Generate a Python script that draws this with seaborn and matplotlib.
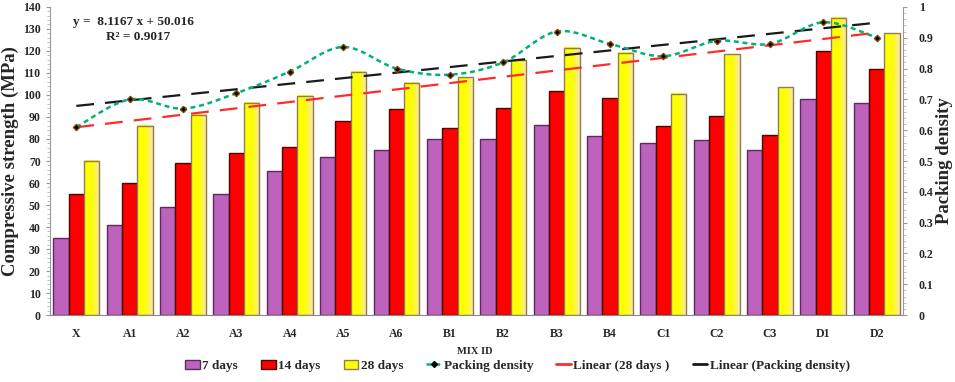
import numpy as np
import pandas as pd
import matplotlib
matplotlib.use("Agg")
import matplotlib.pyplot as plt
import seaborn as sns
from matplotlib.patches import Patch
from matplotlib.lines import Line2D
from matplotlib.colors import LinearSegmentedColormap
from matplotlib.ticker import MultipleLocator

mixes = ["X", "A1", "A2", "A3", "A4", "A5", "A6", "B1", "B2", "B3", "B4",
         "C1", "C2", "C3", "D1", "D2"]
days_7 = [35, 41, 49, 55, 65.5, 72, 75, 80, 80, 86.5, 81.5, 78, 79.5, 75, 98, 96.5]
days_14 = [55, 60, 69, 73.5, 76.5, 88, 93.5, 85, 94, 102, 98.5, 86, 90.5, 82, 120, 112]
days_28 = [70, 86, 91, 96.5, 99.5, 110.5, 105.5, 108, 116, 121.5, 119, 100.5,
           118.5, 103.5, 135, 128]
packing = [0.61, 0.70, 0.67, 0.72, 0.79, 0.87, 0.80, 0.78, 0.82, 0.92, 0.88,
           0.84, 0.89, 0.88, 0.95, 0.90]
ages = ["7 days", "14 days", "28 days"]

sns.set_style("ticks")
plt.rcParams["font.family"] = ["Liberation Serif", "DejaVu Serif"]
plt.rcParams["font.weight"] = "bold"

df = pd.DataFrame({
    "mix": mixes * 3,
    "age": [a for a in ages for _ in mixes],
    "strength": days_7 + days_14 + days_28,
})

colors = {"7 days": "#bd62bd", "14 days": "#ff0000", "28 days": "#ffff00"}
edges = ["#5c2a5c", "#4a0000", "#8c7d55"]

fig = plt.figure(figsize=(9.55, 3.82), dpi=100)
ax = fig.add_axes([0.052, 0.175, 0.894, 0.807])

sns.barplot(data=df, x="mix", y="strength", hue="age", order=mixes,
            hue_order=ages, palette=colors, saturation=1, width=0.86, gap=0,
            legend=False, ax=ax, zorder=2)

for cont, ec in zip(ax.containers, edges):
    for p in cont:
        p.set_edgecolor(ec)
        p.set_linewidth(1.0)

# gradient fill on the 28-day bars
grad_cmap = LinearSegmentedColormap.from_list(
    "yg", [(0, "#ffff00"), (0.5, "#ffff00"), (1.0, "#fde6b0")])
grad = np.linspace(0, 1, 64).reshape(1, -1)
for p in ax.containers[2]:
    x0, w, h = p.get_x(), p.get_width(), p.get_height()
    ax.imshow(grad, cmap=grad_cmap, extent=[x0, x0 + w, 0, h],
              aspect="auto", zorder=2.1, interpolation="bilinear")
    p.set_facecolor("none")
    p.set_zorder(2.2)

xs = np.arange(len(mixes))

# linear trend of 28 days
k, b = np.polyfit(xs, days_28, 1)
ax.plot(xs, k * xs + b, color="#ff2a2a", lw=1.6, dashes=(8, 5), zorder=4)

ax.set_xlim(-0.5, len(mixes) - 0.5)
ax.set_ylim(0, 140)
ax.yaxis.set_major_locator(MultipleLocator(10))
ax.yaxis.set_minor_locator(MultipleLocator(2))
ax.set_ylabel("Compressive strength (MPa)", fontsize=13.5, fontweight="bold", labelpad=3)
ax.set_xlabel("")
ax.tick_params(axis="x", length=0, labelsize=8.5, pad=9)
ax.tick_params(axis="y", labelsize=8.5, length=3, color="#999999")
ax.tick_params(axis="y", which="minor", length=2, color="#bbbbbb")
for s in ["top", "right"]:
    ax.spines[s].set_visible(False)
ax.spines["left"].set_color("#999999")
ax.spines["bottom"].set_color("#888888")

ax2 = ax.twinx()
ax2.set_ylim(0, 1)
ax2.yaxis.set_minor_locator(MultipleLocator(0.02))
ax2.set_yticks(np.arange(0, 1.01, 0.1))
ax2.set_yticklabels(["0", "0.1", "0.2", "0.3", "0.4", "0.5", "0.6", "0.7",
                     "0.8", "0.9", "1"])
ax2.tick_params(axis="y", labelsize=8.5, length=3, color="#999999", pad=8)
ax2.tick_params(axis="y", which="minor", length=2, color="#bbbbbb")
for s in ["top", "left", "bottom"]:
    ax2.spines[s].set_visible(False)
ax2.spines["right"].set_color("#999999")
ax2.set_ylabel("Packing density", fontsize=13.5, fontweight="bold", labelpad=2)

# linear trend of packing density
k2, b2 = np.polyfit(xs, packing, 1)
ax2.plot(xs, k2 * xs + b2, color="#1a1a1a", lw=1.6, dashes=(8, 5), zorder=4)

# smoothed packing density curve (Catmull-Rom through the points)
pk = np.array(packing, dtype=float)
px = xs.astype(float)
P = np.column_stack([px, pk])
P = np.vstack([P[0], P, P[-1]])
curve = []
t = np.linspace(0, 1, 25)[:, None]
for i in range(1, len(P) - 2):
    p0, p1, p2, p3 = P[i - 1], P[i], P[i + 1], P[i + 2]
    seg = 0.5 * ((2 * p1) + (-p0 + p2) * t + (2 * p0 - 5 * p1 + 4 * p2 - p3) * t ** 2
                 + (-p0 + 3 * p1 - 3 * p2 + p3) * t ** 3)
    curve.append(seg)
curve = np.vstack(curve)
ax2.plot(curve[:, 0], curve[:, 1], color="#00b27a", lw=1.8, dashes=(2, 1.5), zorder=5)
ax2.plot(xs, packing, ls="none", marker="D", ms=3.2, color="black",
         markeredgecolor="#7a4a00", zorder=6)

ax.text(-0.07, 131.8, "y =  8.1167 x + 50.016", fontsize=9.5, fontweight="bold")
ax.text(0.55, 124.8, "R² = 0.9017", fontsize=9.5, fontweight="bold")

fig.text(0.497, 0.074, "MIX ID", fontsize=7.5, fontweight="bold", ha="center")

handles = [
    Patch(facecolor=colors["7 days"], edgecolor=edges[0]),
    Patch(facecolor=colors["14 days"], edgecolor=edges[1]),
    Patch(facecolor=colors["28 days"], edgecolor=edges[2]),
    Line2D([], [], color="#00b27a", lw=1.8, dashes=(2, 1.5), marker="D",
           ms=3, markerfacecolor="black", markeredgecolor="black"),
    Line2D([], [], color="#ff2a2a", lw=2),
    Line2D([], [], color="#1a1a1a", lw=2),
]
labels = ["7 days", "14 days", "28 days", "Packing density",
          "Linear (28 days )", "Linear (Packing density)"]
fig.legend(handles, labels, loc="lower center", bbox_to_anchor=(0.542, -0.005),
           ncol=6, frameon=False, handlelength=1.1,
           handletextpad=0.2, columnspacing=1.75,
           prop={"weight": "bold", "size": 9.5})

fig.savefig("out.png", dpi=100)
